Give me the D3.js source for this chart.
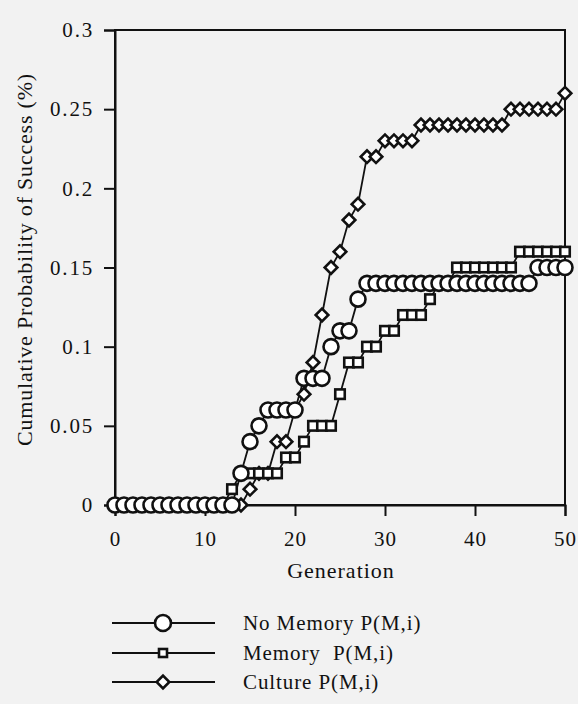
<!DOCTYPE html>
<html>
<head>
<meta charset="utf-8">
<script src="https://cdn.jsdelivr.net/npm/d3@7"></script>
<style>
  body { margin: 0; background: #f2f2f2; }
  svg { display: block; }
  text { font-family: "Liberation Serif", "DejaVu Serif", serif; fill: #111; }
</style>
</head>
<body>
<div id="chart"></div>
<script>
// Generations 0..50
const generations = [
  0, 1, 2, 3, 4, 5, 6, 7, 8, 9, 10, 11, 12, 13, 14, 15, 16, 17, 18, 19, 20,
  21, 22, 23, 24, 25, 26, 27, 28, 29, 30, 31, 32, 33, 34, 35, 36, 37, 38, 39, 40,
  41, 42, 43, 44, 45, 46, 47, 48, 49, 50
];

// cumulative probability of success
const noMemory = [
  0, 0, 0, 0, 0, 0, 0, 0, 0, 0, 0, 0, 0, 0, 0.02, 0.04, 0.05, 0.06, 0.06, 0.06, 0.06,
  0.08, 0.08, 0.08, 0.10, 0.11, 0.11, 0.13, 0.14, 0.14, 0.14, 0.14, 0.14, 0.14, 0.14, 0.14, 0.14, 0.14, 0.14, 0.14, 0.14,
  0.14, 0.14, 0.14, 0.14, 0.14, 0.14, 0.15, 0.15, 0.15, 0.15
];
const memory = [
  0, 0, 0, 0, 0, 0, 0, 0, 0, 0, 0, 0, 0, 0.01, 0.02, 0.02, 0.02, 0.02, 0.02, 0.03, 0.03,
  0.04, 0.05, 0.05, 0.05, 0.07, 0.09, 0.09, 0.10, 0.10, 0.11, 0.11, 0.12, 0.12, 0.12, 0.13, 0.14, 0.14, 0.15, 0.15, 0.15,
  0.15, 0.15, 0.15, 0.15, 0.16, 0.16, 0.16, 0.16, 0.16, 0.16
];
const culture = [
  0, 0, 0, 0, 0, 0, 0, 0, 0, 0, 0, 0, 0, 0, 0, 0.01, 0.02, 0.02, 0.04, 0.04, 0.06,
  0.07, 0.09, 0.12, 0.15, 0.16, 0.18, 0.19, 0.22, 0.22, 0.23, 0.23, 0.23, 0.23, 0.24, 0.24, 0.24, 0.24, 0.24, 0.24, 0.24,
  0.24, 0.24, 0.24, 0.25, 0.25, 0.25, 0.25, 0.25, 0.25, 0.26
];

const xTicks = [0, 10, 20, 30, 40, 50];
const yTicks = [0, 0.05, 0.1, 0.15, 0.2, 0.25, 0.3];
const yTickLabels = ['0', '0.05', '0.1', '0.15', '0.2', '0.25', '0.3'];

const seriesNames = ['No Memory P(M,i)', 'Memory  P(M,i)', 'Culture P(M,i)'];

const width = 578, height = 704;
const plotLeft = 115, plotRight = 565, plotTop = 30, plotBottom = 505;

const svg = d3.select('#chart').append('svg')
  .attr('width', width)
  .attr('height', height);

const x = d3.scaleLinear().domain([0, 50]).range([plotLeft, plotRight]);
const y = d3.scaleLinear().domain([0, 0.3]).range([plotBottom, plotTop]);

// frame
svg.append('rect')
  .attr('x', plotLeft).attr('y', plotTop)
  .attr('width', plotRight - plotLeft).attr('height', plotBottom - plotTop)
  .attr('fill', 'none').attr('stroke', '#111').attr('stroke-width', 2);

// axes
const xAxis = svg.append('g')
  .attr('transform', `translate(0,${plotBottom})`)
  .call(d3.axisBottom(x).tickValues(xTicks).tickSize(11).tickPadding(8).tickFormat(d3.format('d')));
const yAxis = svg.append('g')
  .attr('transform', `translate(${plotLeft},0)`)
  .call(d3.axisLeft(y).tickValues(yTicks).tickSize(11).tickPadding(10)
    .tickFormat((d, i) => yTickLabels[i]));

[xAxis, yAxis].forEach(g => {
  g.select('.domain').attr('stroke', '#111').attr('stroke-width', 2);
  g.selectAll('.tick line').attr('stroke', '#111').attr('stroke-width', 2);
  g.selectAll('.tick text')
    .style('font-family', '"Liberation Serif", serif')
    .style('font-size', '21px')
    .attr('fill', '#111');
});
xAxis.selectAll('.tick text').attr('dy', '1.05em').style('letter-spacing', '1px');
yAxis.selectAll('.tick text').style('letter-spacing', '1.8px');

// axis titles
svg.append('text')
  .attr('x', (plotLeft + plotRight) / 2 + 1).attr('y', 578)
  .attr('text-anchor', 'middle')
  .style('font-size', '22px')
  .style('letter-spacing', '1px')
  .text('Generation');

svg.append('text')
  .attr('transform', `translate(32,${(plotTop + plotBottom) / 2 - 8}) rotate(-90)`)
  .attr('text-anchor', 'middle')
  .style('font-size', '22px')
  .style('letter-spacing', '0.8px')
  .text('Cumulative Probability of Success (%)');

// markers
const diamondPath = d3.symbol(d3.symbolSquare, 80)();
const drawMarker = (sel, kind, big) => {
  if (kind === 'circle') {
    sel.append('circle').attr('r', big ? 8 : 7.5);
  } else if (kind === 'square') {
    const s = big ? 8 : 9.5;
    sel.append('rect').attr('x', -s / 2).attr('y', -s / 2).attr('width', s).attr('height', s);
  } else {
    sel.append('path').attr('d', diamondPath).attr('transform', 'rotate(45)');
  }
  sel.selectAll('*')
    .attr('fill', '#fff')
    .attr('stroke', '#111')
    .attr('stroke-width', 2.6);
};

const series = [
  { name: seriesNames[2], values: culture, kind: 'diamond' },
  { name: seriesNames[1], values: memory, kind: 'square' },
  { name: seriesNames[0], values: noMemory, kind: 'circle' }
];

const line = d3.line()
  .x(d => x(d[0]))
  .y(d => y(d[1]));

series.forEach(s => {
  const pts = generations.map((g, i) => [g, s.values[i]]);
  svg.append('path')
    .datum(pts)
    .attr('d', line)
    .attr('fill', 'none')
    .attr('stroke', '#111')
    .attr('stroke-width', 1.8);
});

series.forEach(s => {
  const pts = generations.map((g, i) => [g, s.values[i]]);
  svg.append('g').selectAll('g')
    .data(pts)
    .enter().append('g')
    .attr('transform', d => `translate(${x(d[0])},${y(d[1])})`)
    .each(function () { drawMarker(d3.select(this), s.kind, false); });
});

// legend
const legendRows = [
  { name: seriesNames[0], kind: 'circle' },
  { name: seriesNames[1], kind: 'square' },
  { name: seriesNames[2], kind: 'diamond' }
];
const legendY = [623, 653, 682];

legendRows.forEach((r, i) => {
  const g = svg.append('g').attr('transform', `translate(0,${legendY[i]})`);
  g.append('line')
    .attr('x1', 112).attr('x2', 215)
    .attr('stroke', '#111').attr('stroke-width', 2.2);
  const m = g.append('g').attr('transform', 'translate(163,0)');
  drawMarker(m, r.kind, true);
  g.append('text')
    .attr('x', 243).attr('y', 7)
    .style('font-size', '21px')
    .style('letter-spacing', '0.9px')
    .style('white-space', 'pre')
    .text(r.name);
});
</script>
</body>
</html>
